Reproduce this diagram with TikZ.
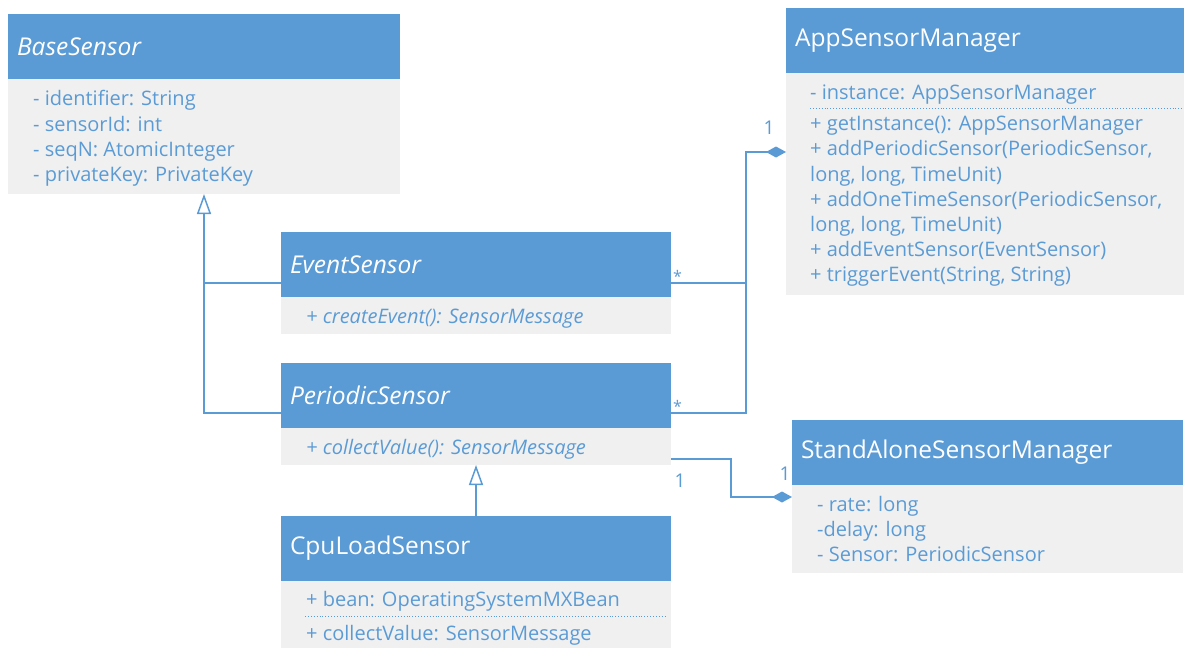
\documentclass[tikz,border=0pt]{standalone}
\usepackage{fontspec}
\setmainfont{Open Sans}
\usetikzlibrary{arrows.meta,calc}
\definecolor{hblue}{HTML}{5B9BD5}
\definecolor{bgray}{HTML}{F0F0F0}
\definecolor{tblue}{HTML}{5B9BD5}
\begin{document}
\begin{tikzpicture}[x=1pt,y=-1pt,
  hdr/.style={fill=hblue, text=white, font=\fontsize{24.5}{28}\selectfont,
    anchor=north west, inner xsep=9pt, inner ysep=0pt, outer sep=0pt,
    minimum height=65pt, text width=#1, align=left},
  cmp/.style={fill=bgray, anchor=north west, inner sep=0pt, outer sep=0pt},
  txt/.style={text=tblue, font=\fontsize{20}{25.2}\selectfont, anchor=west,
    inner sep=0pt, align=left},
  mult/.style={text=tblue, font=\fontsize{19}{22}\selectfont, inner sep=0pt},
  star/.style={text=tblue, font=\fontsize{16}{18}\selectfont, inner sep=0pt, anchor=south west},
  sep/.style={draw=hblue, dotted, line width=0.9pt},
  line/.style={draw=hblue, line width=1.5pt},
  gen/.style={line, -{Triangle[open, length=20pt, width=14pt, fill=white]}},
  comp/.style={line, -{Diamond[length=20pt, width=11pt, fill=hblue]}}
]
\useasboundingbox (0,0) rectangle (1184,648);

% BaseSensor
\node[hdr=374pt] (base-h) at (8,14) {\itshape BaseSensor};
\node[cmp, minimum width=392, minimum height=115] (base-b) at (base-h.south west) {};
\node[txt] (base-t) at ($(base-b.west)+(25,2)$)
  {- identifier: String\\- sensorId: int\\- seqN: AtomicInteger\\- privateKey: PrivateKey};

% AppSensorManager
\node[hdr=380pt] (asm-h) at (786,8) {AppSensorManager};
\node[cmp, minimum width=398, minimum height=35] (asm-a) at (asm-h.south west) {};
\node[txt] (asm-at) at ($(asm-a.west)+(24,4)$) {- instance: AppSensorManager};
\node[cmp, minimum width=398, minimum height=187] (asm-m) at (asm-a.south west) {};
\node[txt] (asm-mt) at ($(asm-m.west)+(24,0)$)
  {+ getInstance(): AppSensorManager\\+ addPeriodicSensor(PeriodicSensor,\\long, long, TimeUnit)\\+ addOneTimeSensor(PeriodicSensor,\\long, long, TimeUnit)\\+ addEventSensor(EventSensor)\\+ triggerEvent(String, String)};
\draw[sep] ($(asm-m.north west)+(24,0)$) -- (asm-m.north east);

% EventSensor
\node[hdr=372pt] (ev-h) at (281,232) {\itshape EventSensor};
\node[cmp, minimum width=390, minimum height=37] (ev-b) at (ev-h.south west) {};
\node[txt] (ev-t) at ($(ev-b.west)+(25,3)$) {\itshape + createEvent(): SensorMessage};

% PeriodicSensor
\node[hdr=372pt] (ps-h) at (281,363) {\itshape PeriodicSensor};
\node[cmp, minimum width=390, minimum height=37] (ps-b) at (ps-h.south west) {};
\node[txt] (ps-t) at ($(ps-b.west)+(25,3)$) {\itshape + collectValue(): SensorMessage};

% CpuLoadSensor
\node[hdr=372pt] (cpu-h) at (281,516) {CpuLoadSensor};
\node[cmp, minimum width=390, minimum height=35] (cpu-a) at (cpu-h.south west) {};
\node[txt] (cpu-at) at ($(cpu-a.west)+(25,3)$) {+ bean: OperatingSystemMXBean};
\node[cmp, minimum width=390, minimum height=32] (cpu-m) at (cpu-a.south west) {};
\node[txt] (cpu-mt) at ($(cpu-m.west)+(25,3)$) {+ collectValue: SensorMessage};
\draw[sep] ($(cpu-m.north west)+(24,0)$) -- ($(cpu-m.north east)+(-4,0)$);

% StandAloneSensorManager
\node[hdr=373pt] (sa-h) at (792,420) {StandAloneSensorManager};
\node[cmp, minimum width=391, minimum height=88] (sa-b) at (sa-h.south west) {};
\node[txt] (sa-t) at ($(sa-b.west)+(25,0)$)
  {- rate: long\\-delay: long\\- Sensor: PeriodicSensor};

% Generalisation towards BaseSensor
\coordinate (gtip) at ($(base-b.south west)+(196,0)$);
\coordinate (ev-in) at ($(ev-h.south west)+(0,-14)$);
\coordinate (ps-in) at ($(ps-h.south west)+(0,-15)$);
\draw[line] (ev-in) -- (ev-in -| gtip);
\draw[gen] (ps-in) -| (gtip);

% Generalisation towards PeriodicSensor
\draw[gen] (cpu-h.north) -- (ps-b.south);

% Aggregation into AppSensorManager
\coordinate (ev-out) at ($(ev-h.south east)+(0,-14)$);
\coordinate (ps-out) at ($(ps-h.south east)+(0,-15)$);
\coordinate (asm-in) at ($(asm-m.north west)+(0,44)$);
\coordinate (bus) at ($(ev-out)+(75,0)$);
\draw[line] (ev-out) -- (bus);
\draw[comp] (ps-out) -| (bus |- asm-in) -- (asm-in);
\node[star] (st1) at ($(ev-out)+(2,0)$) {*};
\node[star] (st2) at ($(ps-out)+(2,0)$) {*};
\node[mult] (m1) at (769,128) {1};

% Aggregation into StandAloneSensorManager
\coordinate (ps-out2) at ($(ps-b.south east)+(0,-6)$);
\coordinate (sa-in) at ($(sa-b.north west)+(0,12)$);
\draw[comp] (ps-out2) -- ++(60,0) |- (sa-in);
\node[mult] (m2) at (680,481) {1};
\node[mult] (m3) at (785,474) {1};

\end{tikzpicture}
\end{document}
